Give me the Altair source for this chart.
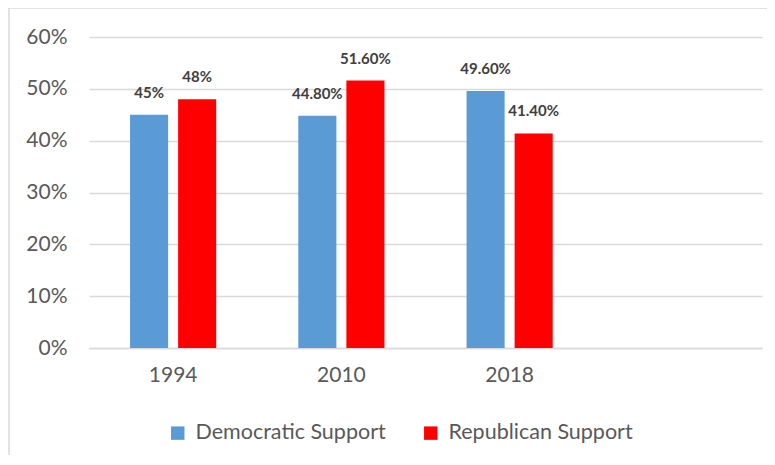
import altair as alt
import pandas as pd

years = ["1994", "2010", "2018"]
x_domain = ["1994", "2010", "2018", " "]
series = ["Democratic Support", "Republican Support"]
dem = [0.45, 0.448, 0.496]
rep = [0.48, 0.516, 0.414]
dem_labels = ["45%", "44.80%", "49.60%"]
rep_labels = ["48%", "51.60%", "41.40%"]
colors = ["#5b9bd5", "#ff0000"]

rows = []
for i, y in enumerate(years):
    rows.append({"year": y, "series": series[0], "value": dem[i], "label": dem_labels[i]})
    rows.append({"year": y, "series": series[1], "value": rep[i], "label": rep_labels[i]})
df = pd.DataFrame(rows)

FONT = "Lato"

x_enc = alt.X("year:N", scale=alt.Scale(domain=x_domain, paddingInner=0, paddingOuter=0),
              axis=alt.Axis(title=None, labelAngle=0, labelFontSize=21, labelColor="#595959",
                            labelFont=FONT, labelPadding=16, ticks=False, domainColor="#d9d9d9",
                            domainWidth=1.5, grid=False))
xoff = alt.XOffset("series:N", scale=alt.Scale(domain=series, paddingInner=0.208, paddingOuter=0.854))
y_enc = alt.Y("value:Q", scale=alt.Scale(domain=[0, 0.6], nice=False),
              axis=alt.Axis(title=None, format=".0%", values=[0, 0.1, 0.2, 0.3, 0.4, 0.5, 0.6],
                            labelFontSize=21, labelColor="#595959", labelFont=FONT,
                            labelPadding=22, ticks=False, domain=False, gridColor="#d9d9d9",
                            gridWidth=1.5))

bars = alt.Chart(df).mark_bar().encode(
    x=x_enc, xOffset=xoff, y=y_enc,
    color=alt.Color("series:N", scale=alt.Scale(domain=series, range=colors),
                    legend=alt.Legend(title=None, orient="none", legendX=78, legendY=385,
                                      direction="horizontal", symbolType="square",
                                      symbolSize=180, symbolStrokeWidth=0, labelFontSize=21.5,
                                      labelFont=FONT, labelColor="#595959", labelOffset=7,
                                      columnPadding=34, labelLimit=300)),
)

labels = alt.Chart(df).mark_text(fontSize=15, fontWeight="bold", color="#404040", font=FONT,
                                 baseline="middle", dy=-22).encode(
    x=alt.X("year:N", scale=alt.Scale(domain=x_domain)), xOffset=xoff, y="value:Q", text="label:N"
)

frame = alt.Chart(pd.DataFrame({"k": [0]})).mark_rect(fill=None, stroke="#d9d9d9", strokeWidth=1.5,
                                                      clip=False).encode(
    x=alt.value(-80), x2=alt.value(720), y=alt.value(-29), y2=alt.value(440)
)

chart = alt.layer(frame, bars, labels).properties(
    width=673, height=311,
    background="white",
    autosize=alt.AutoSizeParams(type="none"),
    padding={"left": 81, "top": 29, "right": 5, "bottom": 107},
).configure_view(strokeWidth=0, stroke="transparent")

chart.save("out.html", embed_options={"renderer": "svg", "actions": False})
